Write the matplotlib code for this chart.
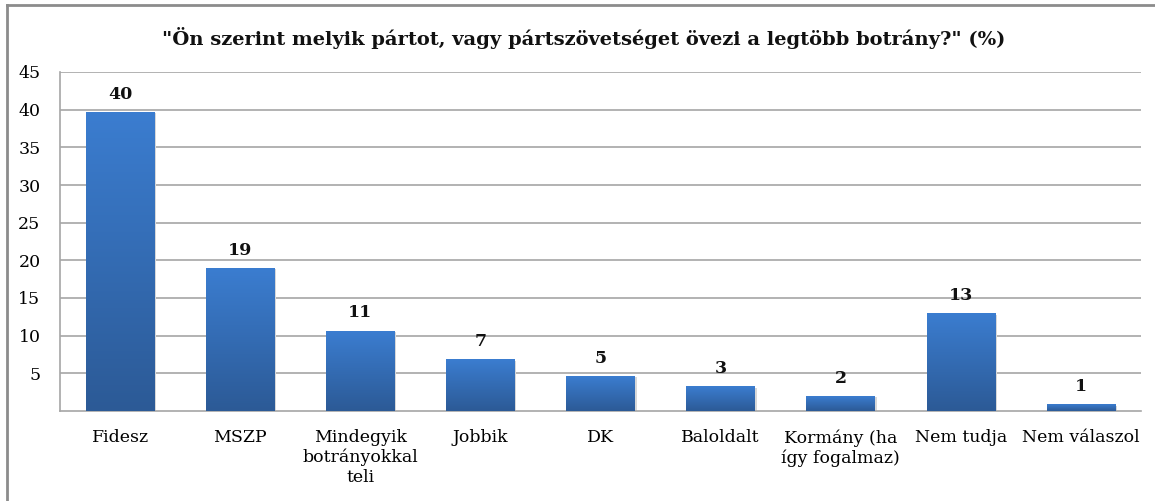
import matplotlib.pyplot as plt
import numpy as np
from matplotlib.lines import Line2D
from matplotlib.colors import LinearSegmentedColormap

# Data
categories = ['Fidesz', 'MSZP', 'Mindegyik\nbotrányokkal\nteli', 'Jobbik', 'DK',
              'Baloldalt', 'Kormány (ha\nígy fogalmaz)', 'Nem tudja', 'Nem válaszol']
values = [39.6, 18.9, 10.6, 6.8, 4.6, 3.2, 1.9, 12.9, 0.8]
labels = ['40', '19', '11', '7', '5', '3', '2', '13', '1']
yticks = [5, 10, 15, 20, 25, 30, 35, 40, 45]

title = '"Ön szerint melyik pártot, vagy pártszövetséget övezi a legtöbb botrány?" (%)'

plt.rcParams['font.family'] = ['DejaVu Serif']

fig = plt.figure(figsize=(11.55, 5.01), dpi=100)
ax = fig.add_axes([60 / 1155, 90 / 501, 1081 / 1155, 339 / 501])

# outer chart frame (left and top edges visible)
fig.add_artist(Line2D([7 / 1155, 7 / 1155], [0, 1 - 5 / 501], transform=fig.transFigure,
                      color='#8c8c8c', lw=2))
fig.add_artist(Line2D([7 / 1155, 1], [1 - 5 / 501, 1 - 5 / 501], transform=fig.transFigure,
                      color='#8c8c8c', lw=2))

x = np.arange(len(categories))
width = 0.57
bars = ax.bar(x, values, width=width, color='none', edgecolor='none', zorder=3)

# vertical gradient fill for each bar: light at top, dark at bottom
grad = np.linspace(1, 0, 256).reshape(-1, 1)
cmap = LinearSegmentedColormap.from_list('bluegrad', ['#3b7dd0', '#2c5a96'])
for b in bars:
    x0, y0 = b.get_x(), b.get_y()
    w, h = b.get_width(), b.get_height()
    # light shadow
    ax.bar(x0 + w / 2 + 0.015, h, width=w, bottom=-0.1, color='#d8d8d8', zorder=2)
    ax.imshow(grad, extent=[x0, x0 + w, y0, y0 + h], aspect='auto',
              cmap=cmap, origin='lower', zorder=3, interpolation='bicubic')

for xi, v, lab in zip(x, values, labels):
    ax.text(xi, v + 1.3, lab, ha='center', va='bottom', fontsize=12.5,
            fontweight='bold', color='#111111')

ax.set_xlim(-0.5, len(categories) - 0.5)
ax.set_ylim(0, 45)
ax.set_yticks(yticks)
ax.set_yticklabels([str(t) for t in yticks], fontsize=12.5)
ax.set_xticks(x)
ax.set_xticklabels(categories, fontsize=12.5, linespacing=1.2)
ax.tick_params(axis='y', length=0, pad=14)
ax.tick_params(axis='x', length=0, pad=13)

ax.grid(axis='y', color='#a6a6a6', lw=1.2, zorder=0)
for s in ['top', 'right']:
    ax.spines[s].set_visible(False)
ax.spines['left'].set_color('#a6a6a6')
ax.spines['bottom'].set_color('#a6a6a6')
ax.spines['left'].set_linewidth(1.2)
ax.spines['bottom'].set_linewidth(1.2)

fig.text(584 / 1155, 1 - 38 / 501, title, ha='center', va='center',
         fontsize=14, fontweight='bold', color='#111111')

fig.savefig('out.png', dpi=100)
